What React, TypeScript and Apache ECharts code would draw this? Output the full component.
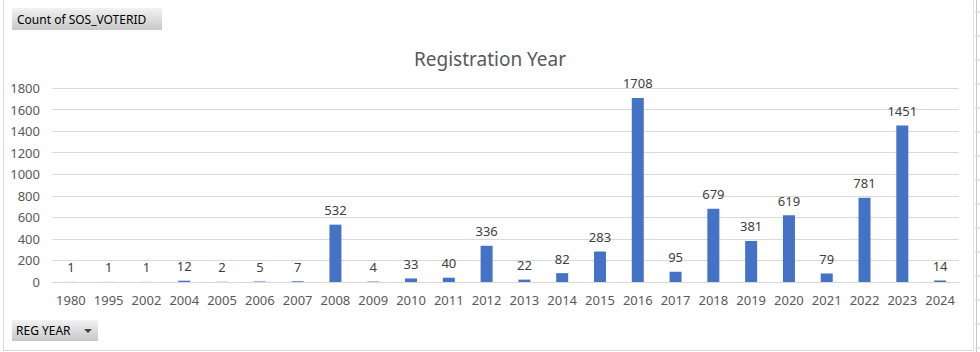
import React, { useEffect, useRef } from "react";
import * as echarts from "echarts";

const categories = ["1980","1995","2002","2004","2005","2006","2007","2008","2009","2010","2011","2012","2013","2014","2015","2016","2017","2018","2019","2020","2021","2022","2023","2024"];
const counts = [1,1,1,12,2,5,7,532,4,33,40,336,22,82,283,1708,95,679,381,619,79,781,1451,14];
const yTicks = [0,200,400,600,800,1000,1200,1400,1600,1800];

const FONT = "'Noto Sans', 'Open Sans', sans-serif";

export default function App() {
  const ref = useRef<HTMLDivElement>(null);
  useEffect(() => {
    document.body.style.margin = "0";
    const chart = echarts.init(ref.current!, null, { renderer: "svg" });
    const btnGrad = new echarts.graphic.LinearGradient(0, 0, 0, 1, [
      { offset: 0, color: "#f2f2f2" },
      { offset: 1, color: "#c8c8c8" },
    ]);
    const sideTicks: any[] = [];
    for (let y = 12; y < 352; y += 24) {
      sideTicks.push({ type: "line", shape: { x1: 975, y1: y, x2: 980, y2: y }, style: { stroke: "#d0d0d0", lineWidth: 1 } });
    }
    chart.setOption({
      animation: false,
      backgroundColor: "#ffffff",
      title: {
        text: "Registration Year",
        left: "center",
        top: 44,
        textStyle: { fontFamily: FONT, fontSize: 19, fontWeight: "normal", color: "#595959" },
      },
      grid: { left: 52, right: 21, top: 88, bottom: 70, containLabel: false },
      xAxis: {
        type: "category",
        data: categories,
        axisLine: { show: true, lineStyle: { color: "#d9d9d9" } },
        axisTick: { show: false },
        axisLabel: { color: "#595959", fontFamily: FONT, fontSize: 13, margin: 11, interval: 0 },
      },
      yAxis: {
        type: "value",
        min: 0,
        max: 1800,
        interval: 200,
        axisLine: { show: false },
        axisTick: { show: false },
        splitLine: { lineStyle: { color: "#d9d9d9" } },
        axisLabel: { color: "#595959", fontFamily: FONT, fontSize: 13, margin: 12,
          formatter: (v: number) => (yTicks.includes(v) ? String(v) : "") },
      },
      series: [{
        type: "bar",
        data: counts,
        barWidth: 12,
        itemStyle: { color: "#4472C4" },
        label: { show: true, position: "top", distance: 8, color: "#404040", fontFamily: FONT, fontSize: 13 },
      }],
      graphic: [
        { type: "line", shape: { x1: 3.5, y1: 0, x2: 3.5, y2: 350 }, style: { stroke: "#d9d9d9", lineWidth: 1 } },
        { type: "line", shape: { x1: 3, y1: 350.5, x2: 974, y2: 350.5 }, style: { stroke: "#d9d9d9", lineWidth: 1 } },
        { type: "line", shape: { x1: 973.5, y1: 0, x2: 973.5, y2: 351 }, style: { stroke: "#e0e0e0", lineWidth: 1 } },
        { type: "line", shape: { x1: 976.5, y1: 0, x2: 976.5, y2: 352 }, style: { stroke: "#c8c8c8", lineWidth: 1 } },
        ...sideTicks,
        { type: "rect", shape: { x: 12, y: 8, width: 150, height: 22 }, style: { fill: btnGrad } },
        { type: "text", x: 17, y: 19, style: { text: "Count of SOS_VOTERID", fill: "#000", font: `12px ${FONT}`, verticalAlign: "middle" } },
        { type: "rect", shape: { x: 12, y: 320, width: 86, height: 21 }, style: { fill: btnGrad } },
        { type: "text", x: 16, y: 330.5, style: { text: "REG YEAR", fill: "#000", font: `12px ${FONT}`, verticalAlign: "middle" } },
        { type: "polygon", shape: { points: [[84, 329], [92, 329], [88, 333]] }, style: { fill: "#444" } },
      ],
    });
    return () => chart.dispose();
  }, []);
  return <div ref={ref} style={{ width: 980, height: 352, position: "absolute", left: 0, top: 0 }} />;
}
